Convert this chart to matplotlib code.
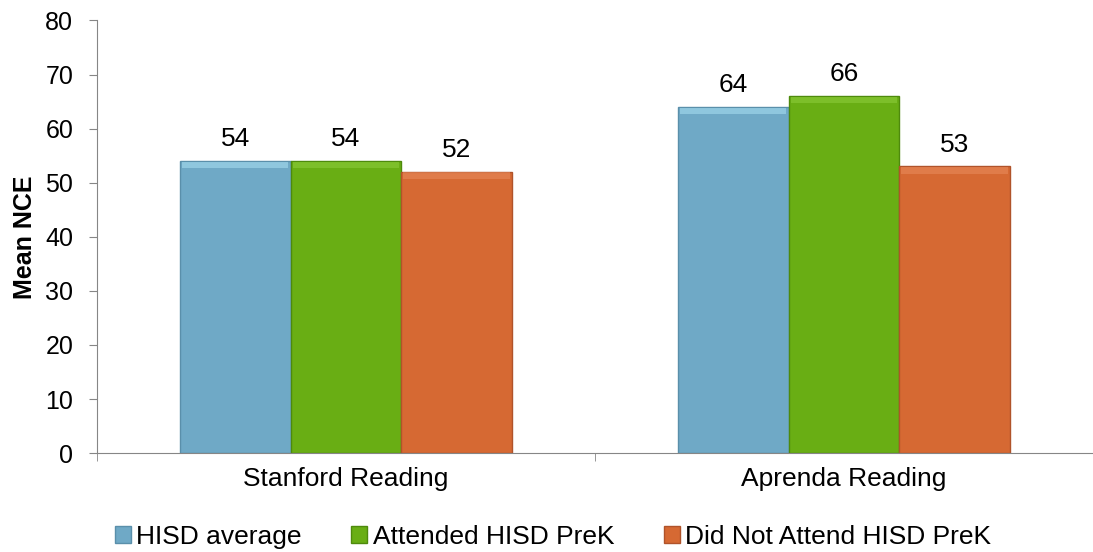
import matplotlib.pyplot as plt
import numpy as np

plt.rcParams["font.family"] = ["Liberation Sans", "DejaVu Sans"]

# Data
categories = ["Stanford Reading", "Aprenda Reading"]
series_names = ["HISD average", "Attended HISD PreK", "Did Not Attend HISD PreK"]
hisd_avg = [54, 64]
attended = [54, 66]
not_attended = [52, 53]

colors = ["#6FA9C6", "#69AE14", "#D66933"]
edges = ["#5A8FAA", "#4E8A0C", "#B0532A"]
tops = ["#A6DCEF", "#8CCB3A", "#E88A5A"]

fig = plt.figure(figsize=(10.93, 5.52), dpi=100)
ax = fig.add_axes([0.0887, 0.179, 0.9113, 0.784])

x = np.arange(len(categories))
width = 0.222
for i, (vals, name) in enumerate(zip([hisd_avg, attended, not_attended], series_names)):
    pos = x + (i - 1) * width
    bars = ax.bar(pos, vals, width, color=colors[i], edgecolor=edges[i],
                  linewidth=1.0, label=name, zorder=2)
    # light bevel strip along the top of each bar
    ax.bar(pos, 1.2, width * 0.96, bottom=np.array(vals) - 1.3,
           color=tops[i], alpha=0.6, linewidth=0, zorder=3)
    for b, v in zip(bars, vals):
        ax.annotate(f"{v}", (b.get_x() + b.get_width() / 2, v),
                    xytext=(0, 7), textcoords="offset points",
                    ha="center", va="bottom", fontsize=19)

ax.set_xlim(-0.5, 1.5)
ax.set_ylim(0, 80)
ax.set_yticks(range(0, 81, 10))
ax.set_xticks(x)
ax.set_xticklabels(categories, fontsize=19)
ax.set_xticks([-0.5, 0.5, 1.5], minor=True)
ax.tick_params(axis="x", which="major", length=0, pad=10)
ax.tick_params(axis="x", which="minor", length=6, color="#868686", direction="out")
ax.tick_params(axis="y", labelsize=18, length=6, color="#868686", pad=11)

for s in ["top", "right"]:
    ax.spines[s].set_visible(False)
for s in ["left", "bottom"]:
    ax.spines[s].set_color("#868686")

ax.set_ylabel("Mean NCE", fontsize=18, fontweight="bold", va="center")
ax.yaxis.set_label_coords(25 / 1093, 0.179 + 0.784 / 2, transform=fig.transFigure)

fig.legend(*ax.get_legend_handles_labels(), loc="center",
           bbox_to_anchor=(553 / 1093, 0.027), ncol=3, frameon=False,
           fontsize=19, handlelength=0.6, handleheight=0.6, handletextpad=0.2,
           columnspacing=1.9, borderpad=0)

fig.savefig("out.png", dpi=100)
